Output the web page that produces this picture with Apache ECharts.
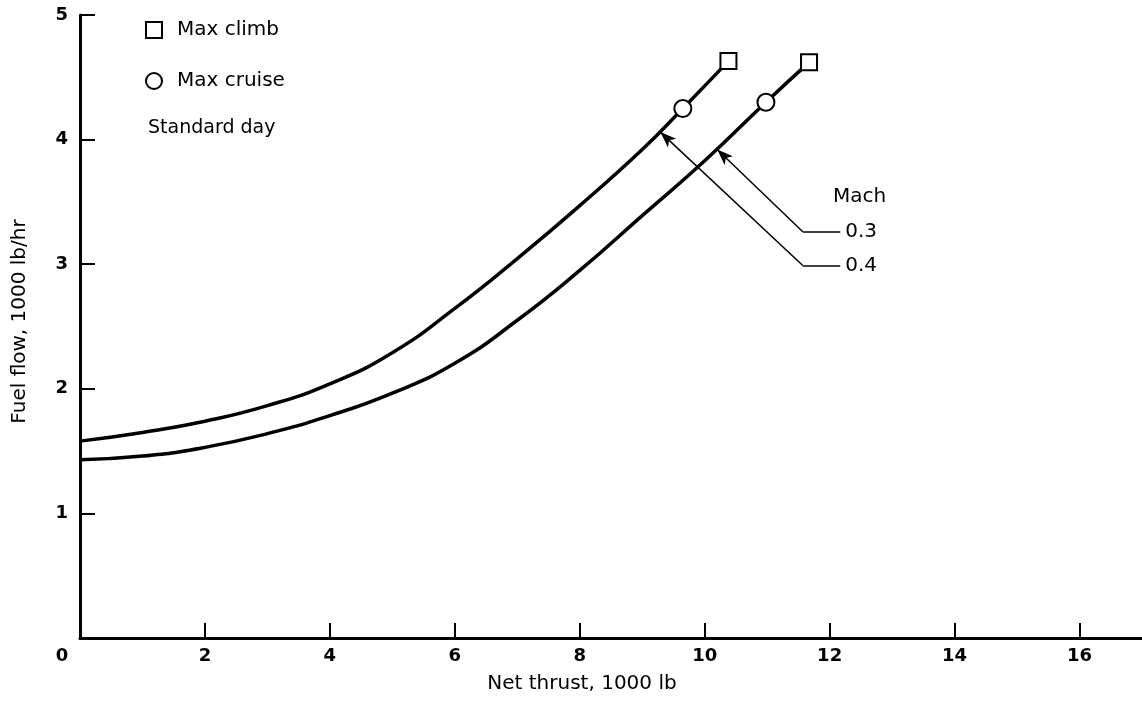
<!DOCTYPE html>
<html>
<head>
<meta charset="utf-8">
<script src="https://cdn.jsdelivr.net/npm/echarts@6/dist/echarts.min.js"></script>
<style>
  html, body { margin: 0; padding: 0; background: #fff; }
  #chart { width: 1142px; height: 702px; }
</style>
</head>
<body>
<div id="chart"></div>
<script>
// ---- data ----
const xTickValues = [0, 2, 4, 6, 8, 10, 12, 14, 16];
const yTickValues = [1, 2, 3, 4, 5];

// Mach 0.4 (upper / left curve)
const mach04X = [0, 1, 2, 3, 4, 5, 6, 7, 8, 9, 9.65, 10.38];
const mach04Y = [1.58, 1.65, 1.74, 1.865, 2.04, 2.29, 2.645, 3.045, 3.47, 3.92, 4.25, 4.63];

// Mach 0.3 (lower / right curve)
const mach03X = [0, 1, 2, 3, 4, 5, 6, 7, 8, 9, 10, 10.98, 11.67];
const mach03Y = [1.43, 1.46, 1.53, 1.64, 1.785, 1.965, 2.205, 2.55, 2.95, 3.39, 3.83, 4.30, 4.62];

// Max climb (squares) and max cruise (circles)
const maxClimbX = [10.38, 11.67];
const maxClimbY = [4.63, 4.62];
const maxCruiseX = [9.65, 10.98];
const maxCruiseY = [4.25, 4.30];

// Mach leader lines: arrow tip on curve, elbow, end of horizontal stub
const leader03Tip = [10.2, 3.92];
const leader03Elbow = [11.57, 3.26];
const leader03End = [12.17, 3.26];
const leader04Tip = [9.29, 4.06];
const leader04Elbow = [11.57, 2.99];
const leader04End = [12.17, 2.99];

const FONT = 'DejaVu Sans';
const zip = (xs, ys) => xs.map((x, i) => [x, ys[i]]);

const chart = echarts.init(document.getElementById('chart'), null, { renderer: 'canvas' });

function leader(tip, elbow, end, text) {
  return [
    [{ coord: elbow, symbol: 'none' }, { coord: tip, symbol: 'arrow' }],
    [{ coord: elbow, symbol: 'none' },
     { coord: end, symbol: 'none',
       label: { show: true, formatter: text, position: 'end', distance: 5,
                color: '#000', fontSize: 20, fontFamily: FONT } }]
  ];
}

const option = {
  animation: false,
  backgroundColor: '#fff',
  grid: { left: 80, right: 0, top: 15, bottom: 64, containLabel: false },
  legend: {
    orient: 'vertical',
    left: 140,
    top: 15,
    itemWidth: 16,
    itemHeight: 16,
    itemGap: 31,
    selectedMode: false,
    data: ['Max climb', 'Max cruise'],
    textStyle: { fontSize: 20, fontFamily: FONT, color: '#000', padding: [0, 0, 0, 10] }
  },
  graphic: [
    { type: 'text', left: 148, top: 119,
      style: { text: 'Standard day', fontSize: 19, fontFamily: FONT, fill: '#000' } },
    { type: 'text', left: 833, top: 187,
      style: { text: 'Mach', fontSize: 20, fontFamily: FONT, fill: '#000' } }
  ],
  xAxis: {
    type: 'value',
    min: 0,
    max: 17,
    interval: 2,
    name: 'Net thrust, 1000 lb',
    nameLocation: 'middle',
    nameGap: 36,
    nameTextStyle: { fontSize: 20, fontFamily: FONT, color: '#000', padding: [0, 58, 0, 0] },
    axisLine: { show: true, onZero: false, lineStyle: { color: '#000', width: 3 } },
    axisTick: { show: true, inside: true, length: 15,
                customValues: xTickValues.filter(v => v !== 0),
                lineStyle: { color: '#000', width: 2 } },
    axisLabel: {
      customValues: xTickValues,
      color: '#000', fontSize: 18, fontWeight: 'bold', fontFamily: FONT, margin: 9,
      formatter: v => (v === 0 ? '{z|0}' : String(v)),
      rich: { z: { padding: [0, 36, 0, 0], fontSize: 18, fontWeight: 'bold', fontFamily: FONT, color: '#000' } }
    },
    splitLine: { show: false }
  },
  yAxis: {
    type: 'value',
    min: 0,
    max: 5,
    interval: 1,
    name: 'Fuel flow, 1000 lb/hr',
    nameLocation: 'middle',
    nameGap: 50,
    nameTextStyle: { fontSize: 20, fontFamily: FONT, color: '#000', padding: [0, 0, 0, 10] },
    axisLine: { show: true, onZero: false, lineStyle: { color: '#000', width: 3 } },
    axisTick: { show: true, inside: true, length: 15, customValues: yTickValues,
                lineStyle: { color: '#000', width: 2 } },
    axisLabel: { customValues: yTickValues, color: '#000', fontSize: 18, fontWeight: 'bold',
                 fontFamily: FONT, margin: 12 },
    splitLine: { show: false }
  },
  series: [
    {
      name: 'Mach 0.4', type: 'line', data: zip(mach04X, mach04Y),
      smooth: 0.5, showSymbol: false, silent: true, z: 2,
      lineStyle: { color: '#000', width: 3.5 },
      markLine: {
        silent: true, animation: false,
        symbolSize: [9, 16],
        lineStyle: { color: '#000', width: 1.5, type: 'solid' },
        label: { show: false },
        data: leader(leader04Tip, leader04Elbow, leader04End, '0.4')
      }
    },
    {
      name: 'Mach 0.3', type: 'line', data: zip(mach03X, mach03Y),
      smooth: 0.5, showSymbol: false, silent: true, z: 2,
      lineStyle: { color: '#000', width: 3.5 },
      markLine: {
        silent: true, animation: false,
        symbolSize: [9, 16],
        lineStyle: { color: '#000', width: 1.5, type: 'solid' },
        label: { show: false },
        data: leader(leader03Tip, leader03Elbow, leader03End, '0.3')
      }
    },
    {
      name: 'Max climb', type: 'scatter', symbol: 'rect', symbolSize: 16, z: 5,
      data: zip(maxClimbX, maxClimbY),
      itemStyle: { color: '#fff', borderColor: '#000', borderWidth: 2, opacity: 1 }
    },
    {
      name: 'Max cruise', type: 'scatter', symbol: 'circle', symbolSize: 17, z: 5,
      data: zip(maxCruiseX, maxCruiseY),
      itemStyle: { color: '#fff', borderColor: '#000', borderWidth: 2, opacity: 1 }
    }
  ]
};

chart.setOption(option);
</script>
</body>
</html>
